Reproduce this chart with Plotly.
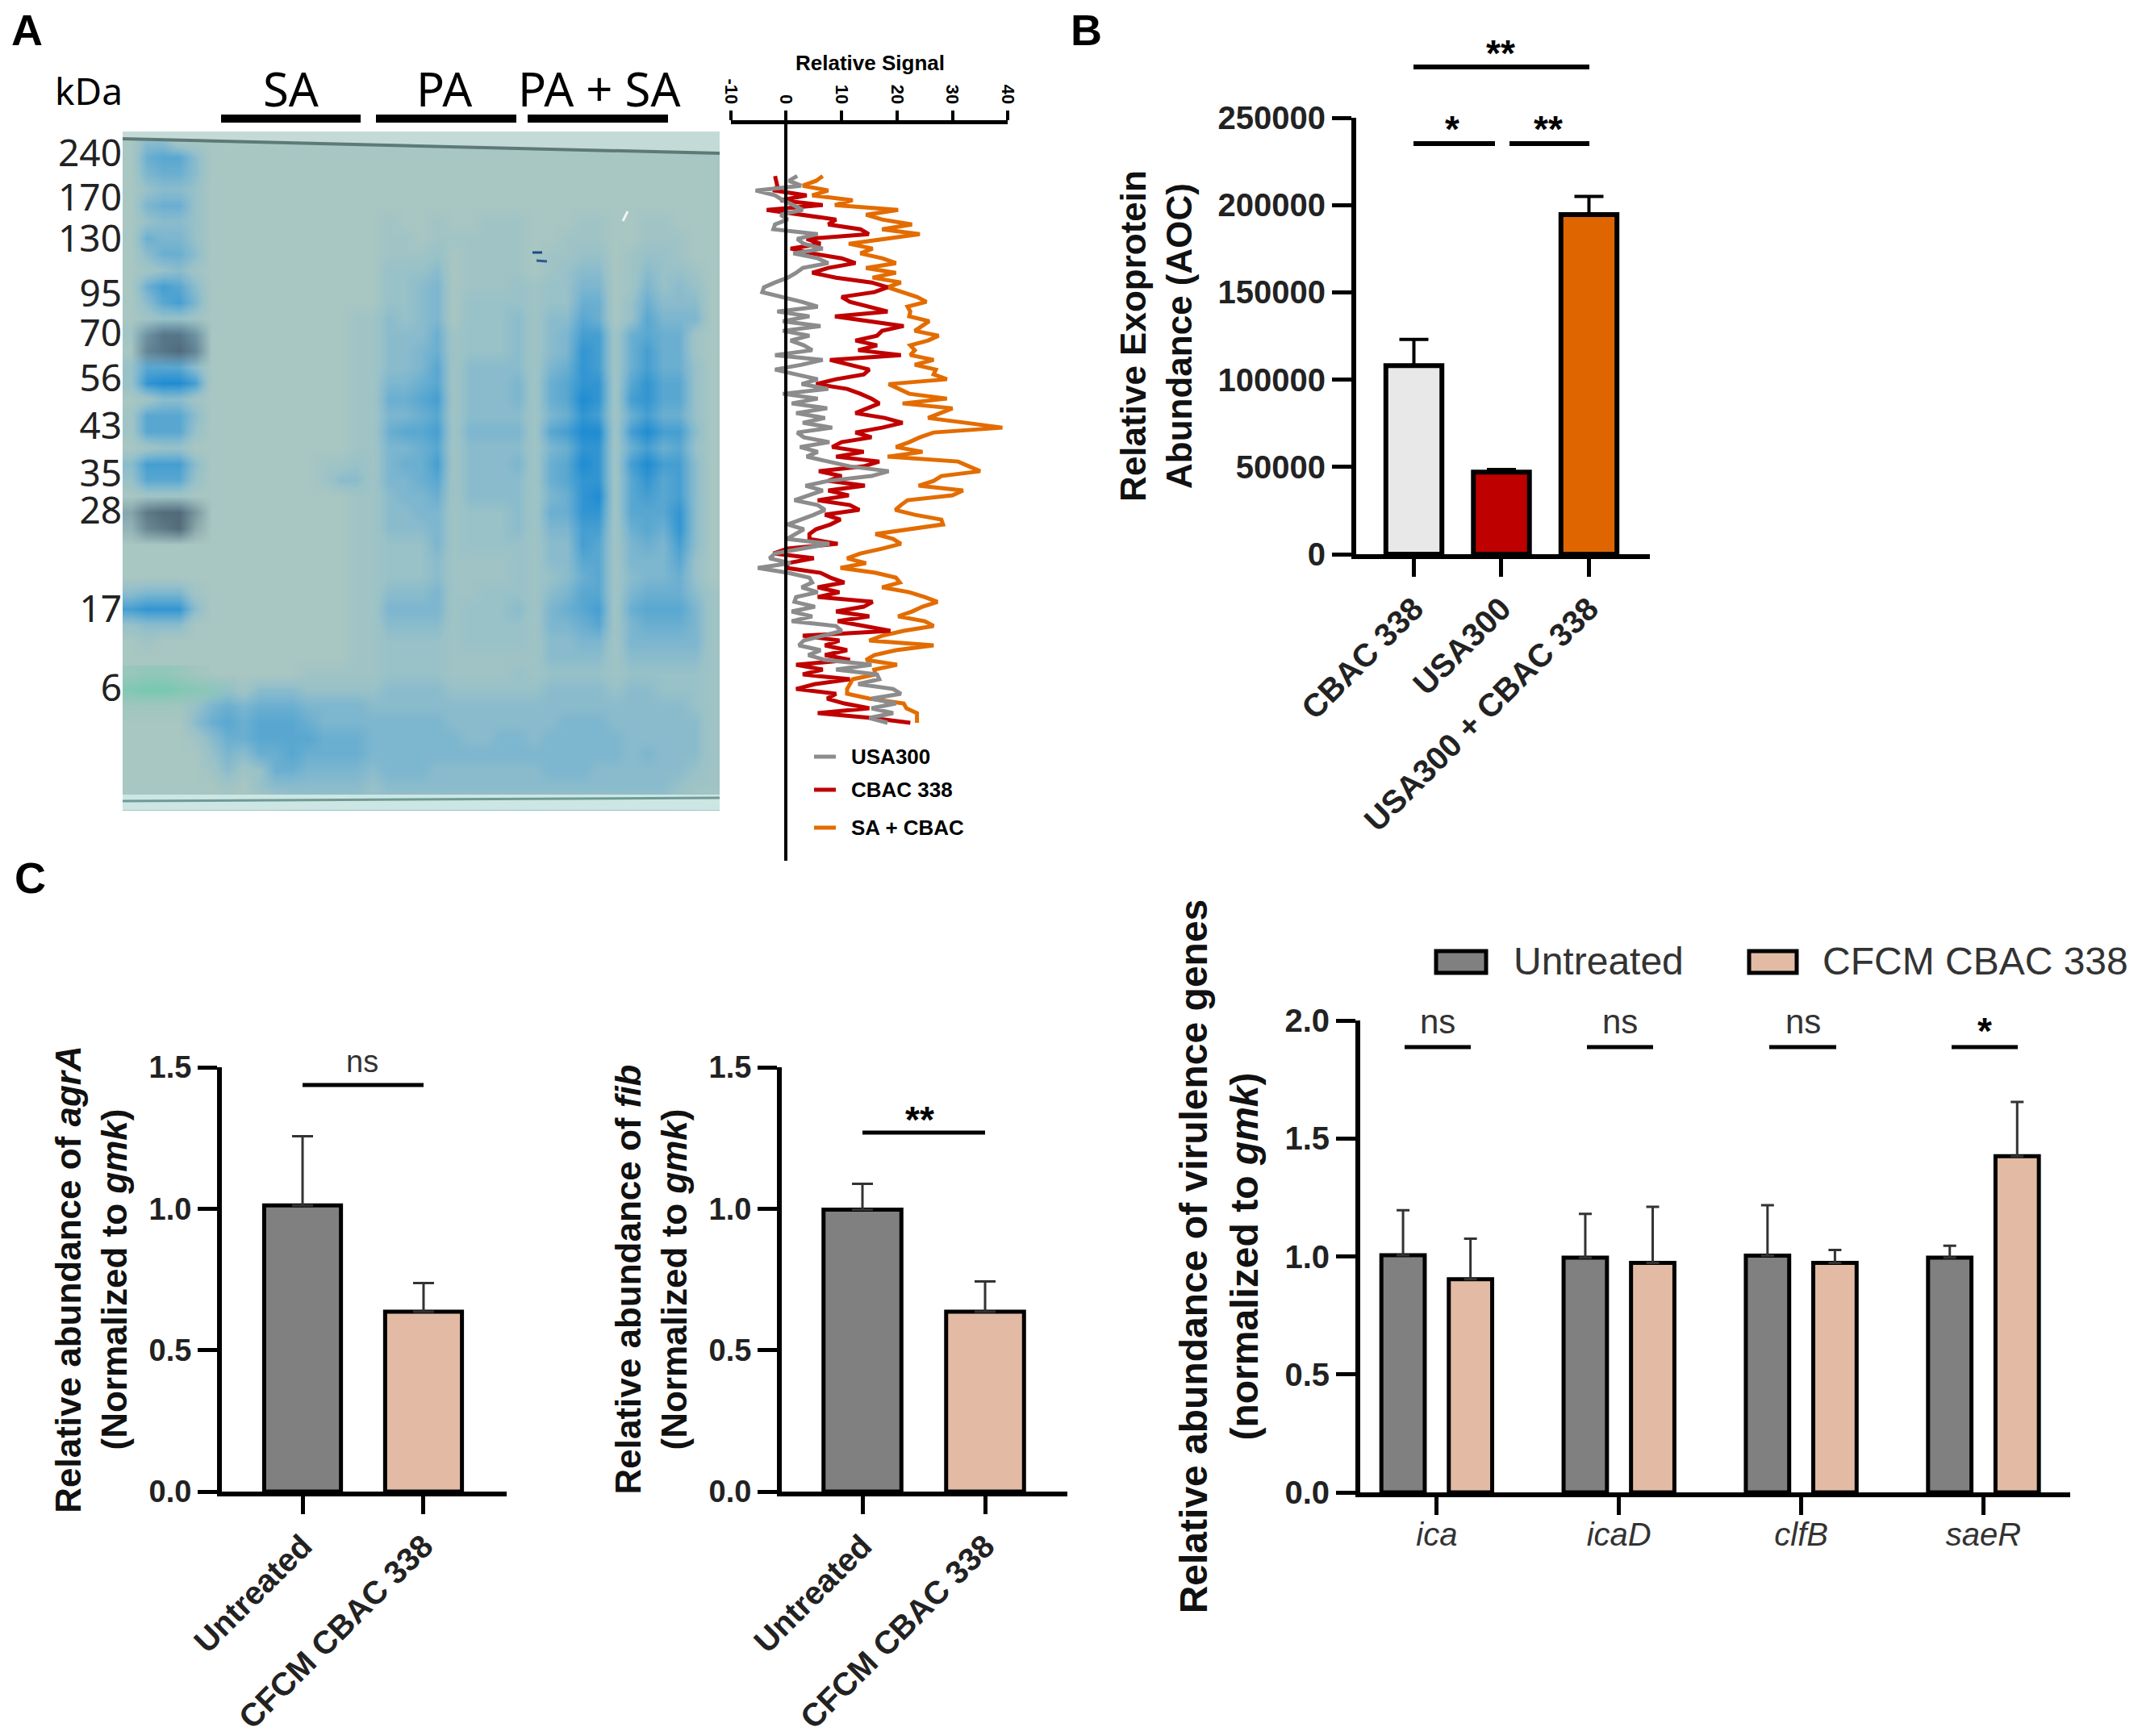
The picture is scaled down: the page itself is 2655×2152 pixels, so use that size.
import plotly.graph_objects as go

W, H = 2655, 2152
BOLD = "Liberation Sans"
GEL_FONT = "Noto Sans"

GEL_ROWS = [
    "0330000 000000000 00000 00000 00000 000000",
    "0566300 000000000 00000 00000 00000 000000",
    "0455300 000000000 00000 00000 00000 000000",
    "0233200 000000000 00000 00000 00000 000000",
    "0455200 000000000 00000 00000 00000 000000",
    "0233200 000000000 10010 01110 00110 011000",
    "0544200 000000000 11011 11110 01110 011100",
    "0355300 000000000 11120 11110 11220 122100",
    "0123100 000000000 22230 11110 12330 132210",
    "0576300 000000000 22340 11121 22440 142320",
    "0367400 000000000 22340 22221 22550 253330",
    "0122100 000000011 32340 22231 33650 264440",
    "1344300 000000011 33351 22231 34771 565510",
    "0344300 000000011 33451 22231 34871 575510",
    "2666300 000000011 33461 33331 45871 575520",
    "2899700 000000011 44561 33341 56881 686620",
    "0133100 000000011 55671 33341 56981 786620",
    "1666300 000000011 44561 33331 45871 575520",
    "1666200 000000011 56671 44441 67991 797730",
    "0122000 000000011 44561 33331 45881 575620",
    "3777300 000001121 45571 33341 56981 797730",
    "2666200 000001331 44561 33331 56881 686730",
    "0111000 000000011 34451 33331 45891 676730",
    "1223100 000000011 33441 22231 55881 666830",
    "1222000 000000011 33341 22231 44771 565830",
    "0000000 000000011 22241 22221 33761 454730",
    "0000000 000000011 22231 11121 33661 444620",
    "0000000 000000011 22231 11121 23561 344520",
    "3444100 000000011 33341 12221 34661 455531",
    "7888300 000000011 44441 22231 45671 566641",
    "2333000 000000011 33331 22221 44561 455541",
    "0100000 000000011 22221 22221 33441 444441",
    "0000000 000000011 22221 11111 33331 333331",
    "0000000 000011111 22221 11121 22221 222221",
    "0000012 133322222 33332 22222 33332 332221",
    "0000245 455544443 33333 33333 33333 333321",
    "0000356 566654444 44443 33333 34443 333331",
    "0000135 566665554 44444 33443 44444 333331",
    "0000024 355655554 44444 44444 44444 343331",
    "0000013 125544443 44433 33333 44433 333321",
    "0000001 023333332 33333 33333 33333 333211",
    "0000000 001222222 22222 22222 22222 222110",
]
LADDER_70 = ["0000000", "0355300", "0456400", "0000000"]
LADDER_28 = ["0000000", "2566300", "1456200", "0000000"]
LADDER_6 = ["2332100", "5665431", "1111000", "0000000"]
KDA_LABELS = ["240", "170", "130", "95", "70", "56", "43", "35", "28", "17", "6"]
KDA_ROWS = [1.25, 4.0, 6.55, 9.95, 12.4, 15.2, 18.15, 21.1, 23.4, 29.5, 34.4]

# Panel A: densitometry profiles, one value per scan row
USA300 = [
    2, 0.5, 2.7, -5.5, -2, -0.6, 1.3, 3, -1, 0.3, -2, -2.3, 5.7, 2, 3.2, 6.6, 1.3, 5.7, 7.6, 3,
    1.8, 0.3, -2, -4, -4.3, -0.6, 2.8, 5.7, -1.6, 4.2, -0.6, 6.2, -0.6, 4.2, 0.8, 3.2, 4.7, -2,
    6.6, 2.8, -2, 1.8, 5.7, 2.8, 7.6, -0.6, 5.7,
    1, 7.4, 1.8, 7, 3, 8.3, 2, 3.2, 7.8, 2.5, 5.7, 3.7, 7.6, 11.5, 18.5, 15.4, 7.6, 3.5, 6.6, 4,
    1.5, 5.7, 7, 5, 2.5, 0.3, 3.2, 1.8, 0.1, 7.8, 3.2, -2, -3, 0.8, -5.1, 0.3, 4.2, 4.7, 2.8,
    5.7, 1.8, 1.5, 5.2, 1, 4.7, 1, 9, 10, 6.6, 3.2, 2.3, 6.2, 4, 7, 15.4, 9, 16.4, 16.8, 13,
    19.3, 20.7, 15.4, 19.8, 15.4, 19.3, 15, 18.3,
]
CBAC_338 = [
    -2, -1.8, -1.6, -2, 3.7, -1, 6.6, -3.5, 2.8, 9, 7.6, 13.4, 14.9, 3.7, 6.2, 0.8, 4.7, 10, 12.5,
    7.6, 4.7, 9, 15.4, 18.3, 15.9, 10, 11.5, 15, 18.3, 8.8, 15, 21.2, 17.3, 16.4, 12.5, 16.4, 13,
    20.7, 7.9, 11.5, 15, 14, 9, 5.4, 11, 13.4, 15.4,
    16.8, 14.4, 12.5, 17.8, 21, 17.3, 12.5, 15.4, 10, 8.3, 14, 9, 16.8, 14, 5.9, 10, 7.6, 14.2,
    7.6, 11.3, 5.7, 11.5, 13.2, 7, 9.8, 8, 5.4, 4.2, 4.2, 9.3, 0.3, -2.3, 5, 0.3, 0.1, 6.2, 8,
    10.5, 5.7, 9.6, 5.7, 15.6, 14, 9, 15, 9.3, 14.4, 18.8, 3, 9.6, 7, 11, 7, 11.5, 1.8, 6.6, 3,
    11.5, 5.2, 1.8, 9, 7.4, 10.5, 15, 5.7, 15.4, 22.4,
]
SA_CBAC = [
    6.6, 5.4, 3, 7.6, 4.7, 12, 8.8, 20.2, 14.4, 17.3, 22.7, 17.3, 24.1, 17.3, 11.3, 15.6, 13.4,
    17.3, 19.8, 14.4, 19.8, 15.6, 20.7, 18.3, 21.2, 23.6, 25.3, 21.9, 22.4, 22.2, 25.8, 24.6,
    23.2, 27.5, 25.6, 22.4, 23.2, 22.4, 26.6, 23.2, 27, 26.6, 29, 18.5, 20.2, 22.2, 29,
    21, 30, 28, 25.6, 32.4, 39, 26.6, 24.1, 22.2, 19.8, 24.6, 18.3, 31, 32.9, 35, 28, 26.6, 23.9,
    31.9, 30, 21.9, 20.7, 19.7, 23.2, 28, 28.3, 21.7, 16.1, 19.3, 20.7, 17.3, 13.4, 11, 14.4, 9.8,
    16.1, 19.8, 20.5, 17.3, 22.2, 25, 27.3, 24.6, 22.7, 20.2, 25, 26.6, 21.2, 17.3, 15, 26.6, 19.8,
    15.9, 14.4, 20, 15.9, 16.1, 12, 11.5, 11, 11, 15, 21.2, 21.7, 23.6, 23.6, 23.6,
]
SIGNAL_TICKS = [-10, 0, 10, 20, 30, 40]
SIGNAL_LABELS = ["-10", "0", "10", "20", "30", "40"]

# Panel B
EXO_STRAINS = ["CBAC 338", "USA300", "USA300 + CBAC 338"]
EXO_VALUES = [108000, 47000, 194500]
EXO_ERRORS = [15000, 1500, 10500]
EXO_COLORS = ["#e8e8e8", "#bf0000", "#df6500"]

# Panel C
TREATMENTS = ["Untreated", "CFCM CBAC 338"]
AGRA_VALUES = [1.012, 0.636]
AGRA_ERRORS = [0.244, 0.101]
FIB_VALUES = [0.997, 0.636]
FIB_ERRORS = [0.091, 0.107]
GENES = ["ica", "icaD", "clfB", "saeR"]
UNTREATED_VALUES = [1.005, 0.995, 1.003, 0.995]
UNTREATED_ERRORS = [0.191, 0.185, 0.214, 0.05]
CFCM_VALUES = [0.903, 0.973, 0.973, 1.425]
CFCM_ERRORS = [0.172, 0.237, 0.054, 0.23]
GREY = "#808080"
TAN = "#e3bba5"


def xdom(a, b):
    return [a / W, b / W]


def ydom(top, bottom):
    return [1 - bottom / H, 1 - top / H]


def digits(rows):
    return [[int(c) for c in row.replace(" ", "")] for row in rows]


fig = go.Figure()
shapes = []
notes = []


def line(x0, y0, x1, y1, color="black", width=6):
    shapes.append(dict(type="line", xref="paper", yref="paper", x0=x0 / W, x1=x1 / W,
                       y0=1 - y0 / H, y1=1 - y1 / H, line=dict(color=color, width=width)))


def rect(x0, y0, x1, y1, fill, edge=None, width=0):
    shapes.append(dict(type="rect", xref="paper", yref="paper", x0=x0 / W, x1=x1 / W,
                       y0=1 - y0 / H, y1=1 - y1 / H, fillcolor=fill,
                       line=dict(color=edge, width=width) if edge else dict(width=0)))


def note(x, y, text, size, family=BOLD, bold=False, anchor="center", color="black"):
    notes.append(dict(xref="paper", yref="paper", x=x / W, y=1 - y / H, text=text,
                      showarrow=False, xanchor=anchor, yanchor="middle",
                      font=dict(family=family, size=size, color=color,
                                weight="bold" if bold else "normal")))


# --- Panel A, gel ---
stain = [[0, "#a8c6c2"], [0.22, "#98c1c8"], [0.44, "#7db6cf"], [0.67, "#58a7d1"], [1, "#1f8cd2"]]
gel = digits(GEL_ROWS)
fig.add_trace(go.Heatmap(z=gel, x=[c + 0.5 for c in range(len(gel[0]))],
                         y=[r + 0.5 for r in range(len(gel))], zmin=0, zmax=9,
                         colorscale=stain, zsmooth="best", showscale=False,
                         hoverinfo="skip", xaxis="x", yaxis="y"))
dark = [[0, "rgba(72,92,108,0)"], [1, "rgba(72,92,108,0.85)"]]
teal = [[0, "rgba(112,200,172,0)"], [1, "rgba(112,200,172,0.85)"]]
for band, first_row, scale in [(LADDER_70, 11, dark), (LADDER_28, 22, dark), (LADDER_6, 33, teal)]:
    fig.add_trace(go.Heatmap(z=digits(band), x=[c + 0.5 for c in range(7)],
                             y=[first_row + r + 0.5 for r in range(len(band))], zmin=0, zmax=6,
                             colorscale=scale, zsmooth="best", showscale=False,
                             hoverinfo="skip", xaxis="x", yaxis="y"))
# glass edges of the photographed gel
shapes.append(dict(type="path", xref="paper", yref="paper", fillcolor="#c4dad7", line=dict(width=0),
                   path=f"M {152/W} {1-163/H} L {892/W} {1-163/H} L {892/W} {1-190/H} L {152/W} {1-172/H} Z"))
rect(152, 985, 892, 1004, "#cce6e4")
line(152, 172, 892, 190, "#5d7a78", 4)
line(152, 993, 892, 989, "#6f9a96", 3)
line(660, 313, 672, 313, "#1d4a86", 3)
line(665, 323, 678, 324, "#2b5a96", 3)
line(772, 274, 778, 262, "#eef6f4", 3)

note(110, 112, "kDa", 46, GEL_FONT)
for name, x in [("SA", 360), ("PA", 550), ("PA + SA", 743)]:
    note(x, 110, name, 58, GEL_FONT)
for x0, x1 in [(274, 447), (466, 640), (654, 828)]:
    line(x0, 147, x1, 147, "black", 10)

# --- Panel A, profiles ---
for name, values, color in [("SA + CBAC", SA_CBAC, "#e36c00"), ("CBAC 338", CBAC_338, "#c00000"),
                            ("USA300", USA300, "#8c8c8c")]:
    fig.add_trace(go.Scatter(x=values, y=list(range(len(values))), mode="lines", name=name,
                             line=dict(color=color, width=5), showlegend=False,
                             xaxis="x2", yaxis="y2"))
note(1078, 78, "Relative Signal", 26, bold=True)
for text, ypos, color in [("USA300", 938, "#8c8c8c"), ("CBAC 338", 979, "#c00000"),
                          ("SA + CBAC", 1026, "#e36c00")]:
    line(1009, ypos, 1036, ypos, color, 5)
    note(1053, ypos, text, 26, bold=True, anchor="left")

# --- Panel B ---
fig.add_trace(go.Bar(x=list(range(3)), y=EXO_VALUES, width=0.64,
                     marker=dict(color=EXO_COLORS, line=dict(color="black", width=6)),
                     error_y=dict(type="data", array=EXO_ERRORS, arrayminus=[0, 0, 0], color="black", thickness=4, width=18),
                     showlegend=False, xaxis="x3", yaxis="y3"))
line(1752, 83, 1970, 83)
line(1752, 178, 1853, 178)
line(1871, 178, 1970, 178)
note(1860, 66, "**", 46, bold=True)
note(1800, 160, "*", 46, bold=True)
note(1919, 160, "**", 46, bold=True)

# --- Panel C, two bar charts ---
for values, errors, xa, ya in [(AGRA_VALUES, AGRA_ERRORS, "x4", "y4"), (FIB_VALUES, FIB_ERRORS, "x5", "y5")]:
    fig.add_trace(go.Bar(x=[0, 1], y=values, width=0.635,
                         marker=dict(color=[GREY, TAN], line=dict(color="black", width=5)),
                         error_y=dict(type="data", array=errors, arrayminus=[0, 0], color="#333333", thickness=3, width=13),
                         showlegend=False, xaxis=xa, yaxis=ya))
line(375, 1345, 525, 1345, "black", 5)
note(449, 1316, "ns", 38, color="#333333")
line(1069, 1404, 1221, 1404, "black", 5)
note(1140, 1388, "**", 46, bold=True)

# --- Panel C, virulence genes ---
for name, values, errors, color, offset in [("Untreated", UNTREATED_VALUES, UNTREATED_ERRORS, GREY, -0.304),
                                            ("CFCM CBAC 338", CFCM_VALUES, CFCM_ERRORS, TAN, 0.066)]:
    fig.add_trace(go.Bar(x=list(range(4)), y=values, name=name, width=0.238, offset=offset,
                         marker=dict(color=color, line=dict(color="black", width=5)),
                         error_y=dict(type="data", array=errors, arrayminus=[0, 0, 0, 0], color="#333333", thickness=3, width=8),
                         showlegend=False, xaxis="x6", yaxis="y6"))
for x0, x1, text in [(1741, 1823, "ns"), (1967, 2049, "ns"), (2193, 2276, "ns"), (2419, 2501, "*")]:
    line(x0, 1298, x1, 1298, "black", 5)
    if text == "ns":
        note((x0 + x1) / 2, 1266, text, 42, color="#333333")
    else:
        note((x0 + x1) / 2, 1278, text, 46, bold=True)
rect(1780, 1179, 1842, 1206, GREY, "black", 5)
note(1874, 1191, "Untreated", 48, anchor="left", color="#333333")
rect(2168, 1179, 2227, 1206, TAN, "black", 5)
note(2257, 1191, "CFCM CBAC 338", 48, anchor="left", color="#333333")

# panel letters
for text, x, y in [("A", 33, 37), ("B", 1346, 37), ("C", 37, 1088)]:
    note(x, y, text, 54, bold=True)


def bar_axes(dom_x, dom_y, xrange, yrange, yticks, ticktext, xfont, yfont, angle, title, standoff, title_size):
    xaxis = dict(domain=dom_x, range=xrange, tickmode="array", tickvals=list(range(len(ticktext))),
                 ticktext=ticktext, tickangle=angle, tickfont=xfont, showline=True, linewidth=6,
                 linecolor="black", ticks="outside", ticklen=22, tickwidth=5, tickcolor="black",
                 showgrid=False, zeroline=False, automargin=False)
    yaxis = dict(domain=dom_y, range=yrange, tickmode="array", tickvals=yticks, tickfont=yfont,
                 showline=True, linewidth=6, linecolor="black", ticks="outside", ticklen=24, tickwidth=5,
                 tickcolor="black", showgrid=False, zeroline=False, automargin=False,
                 title=dict(text=title, standoff=standoff,
                            font=dict(family=BOLD, size=title_size, weight="bold", color="#111111")))
    return xaxis, yaxis


bold40 = dict(family=BOLD, size=40, weight="bold", color="#222222")
bold38 = dict(family=BOLD, size=38, weight="bold", color="#222222")
italic = dict(family=BOLD, size=40, style="italic", color="#333333")

x3, y3 = bar_axes(xdom(1681, 2045), ydom(146, 687), [-0.659, 2.696], [0, 250000],
                  [0, 50000, 100000, 150000, 200000, 250000], EXO_STRAINS, bold40, bold40, -45,
                  "Relative Exoprotein<br>Abundance (AOC)", 20, 44)
y3["tickformat"] = "d"
x4, y4 = bar_axes(xdom(275, 628), ydom(1323, 1849), [-0.667, 1.687], [0, 1.5], [0, 0.5, 1, 1.5],
                  TREATMENTS, bold40, bold38, -45,
                  "Relative abundance of <i>agrA</i><br>(Normalized to <i>gmk</i>)", 15, 44)
x5, y5 = bar_axes(xdom(969, 1323), ydom(1323, 1849), [-0.658, 1.671], [0, 1.5], [0, 0.5, 1, 1.5],
                  TREATMENTS, bold40, bold38, -45,
                  "Relative abundance of <i>fib</i><br>(Normalized to <i>gmk</i>)", 15, 44)
x6, y6 = bar_axes(xdom(1686, 2566), ydom(1265, 1850), [-0.42, 3.476], [0, 2], [0, 0.5, 1, 1.5, 2],
                  GENES, italic, bold40, 0, "Relative abundance of virulence genes<br>(normalized to <i>gmk</i>)", 20, 48)
x6["ticklabelstandoff"] = -10
for axis in (y4, y5, y6):
    axis["tickformat"] = ".1f"

fig.update_layout(
    width=W, height=H, margin=dict(l=0, r=0, t=0, b=0), autosize=False,
    paper_bgcolor="white", plot_bgcolor="rgba(0,0,0,0)", barmode="overlay", showlegend=False,
    shapes=shapes, annotations=notes,
    xaxis=dict(domain=xdom(152, 892), range=[0, 37], visible=False),
    yaxis=dict(domain=ydom(165, 1005), range=[42, 0], showline=False, showgrid=False, zeroline=False,
               tickmode="array", tickvals=KDA_ROWS, ticktext=KDA_LABELS, ticks="", automargin=False,
               tickfont=dict(family=GEL_FONT, size=46, color="#222222")),
    xaxis2=dict(domain=xdom(905.7, 1249.3), range=[-10, 40], side="top", anchor="y2", tickmode="array",
                tickvals=SIGNAL_TICKS, ticktext=SIGNAL_LABELS, tickangle=90, showline=True, linewidth=5,
                linecolor="black", ticks="outside", ticklen=12, tickwidth=4, tickcolor="black", showgrid=False,
                zeroline=False, automargin=False, tickfont=dict(family=BOLD, size=22, weight="bold", color="black")),
    yaxis2=dict(domain=ydom(154, 1067), range=[141.5, -10.7], anchor="free",
                position=974.3 / W, showline=True, linewidth=4, linecolor="black", ticks="",
                showticklabels=False, showgrid=False, zeroline=False, automargin=False),
    xaxis3=x3, yaxis3=y3, xaxis4=x4, yaxis4=y4, xaxis5=x5, yaxis5=y5, xaxis6=x6, yaxis6=y6,
)
for n in "3456":
    fig.layout["xaxis" + n].anchor = "y" + n
    fig.layout["yaxis" + n].anchor = "x" + n

fig.write_html("out.html", config={"displayModeBar": False}, post_script="document.body.style.margin='0'")
